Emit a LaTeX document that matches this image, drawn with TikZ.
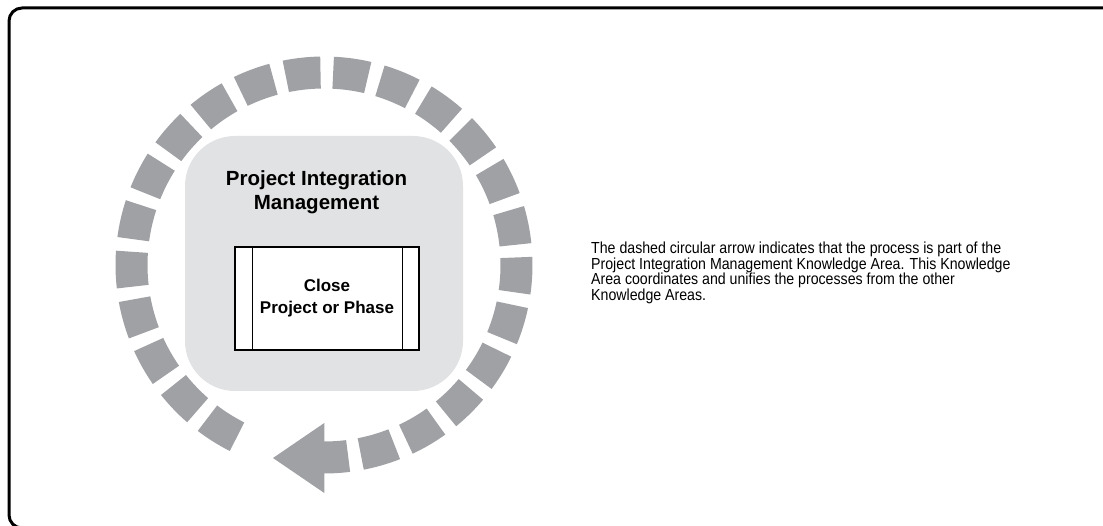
\documentclass[tikz,border=0pt]{standalone}
\usepackage{fontspec}
\setmainfont{Liberation Sans}
\newfontfamily\condfont[FakeStretch=0.885]{Liberation Sans}
\definecolor{ringgray}{HTML}{A0A1A5}
\definecolor{panelgray}{HTML}{E1E2E3}
\tikzset{
  frameline/.style={line width=3pt, rounded corners=13pt},
  ringdash/.style={fill=ringgray},
  panelbox/.style={fill=panelgray, rounded corners=50pt, minimum width=278pt, minimum height=255pt, inner sep=0pt},
  procbox/.style={draw=black, fill=white, line width=1.2pt, minimum width=184pt, minimum height=103pt, inner sep=0pt, align=center, font=\fontsize{17}{22}\selectfont\bfseries},
  headtext/.style={inner sep=0pt, align=center, font=\fontsize{20.5}{24}\selectfont\bfseries},
  notetext/.style={inner sep=0pt, align=left, font=\condfont\fontsize{16}{14}\selectfont}
}
\begin{document}
\begin{tikzpicture}[x=1pt,y=1pt]
\useasboundingbox (0,0) rectangle (1103,525);
\clip (0,0) rectangle (1103,525);
\draw[frameline] (9,517) rectangle (1125,-3);
% panel and process box
\node[panelbox] (panel) at (324,261.5) {};
\node[headtext] (head) at (316.5,332.3) {Project Integration\\Management};
\node[procbox] (proc) at (327,226.5) {Close\\Project or Phase};
\draw[line width=1.2pt] ([xshift=18pt]proc.north west) -- ([xshift=18pt]proc.south west);
\draw[line width=1.2pt] ([xshift=-17pt]proc.north east) -- ([xshift=-17pt]proc.south east);
% dashed circular arrow
\begin{scope}[shift={(324,260)}]
\foreach \k in {0,...,22}{
  \pgfmathsetmacro\a{286.2+14.17*\k}
  \fill[ringdash] (\a-5.2:176.5) arc[start angle=\a-5.2, end angle=\a+5.2, radius=176.5]
    -- (\a+5.2:208.5) arc[start angle=\a+5.2, end angle=\a-5.2, radius=208.5] -- cycle;
}
\fill[ringdash] (270:176.5) arc[start angle=270, end angle=277.2, radius=176.5]
  -- (277.2:208.5) arc[start angle=277.2, end angle=270, radius=208.5] -- cycle;
\fill[ringdash] (0.3,-158) -- (0.3,-228) -- (-51,-193) -- cycle;
\end{scope}
% note
\node[notetext, anchor=west] (note) at (591,252.1) {The dashed circular arrow indicates that the process is part of the\\Project Integration Management Knowledge Area. This Knowledge\\Area coordinates and unifies the processes from the other\\Knowledge Areas.};
\end{tikzpicture}
\end{document}
